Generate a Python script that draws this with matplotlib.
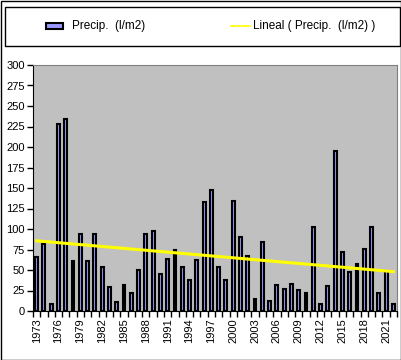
import matplotlib.pyplot as plt
import numpy as np
from matplotlib.patches import Rectangle
from matplotlib.lines import Line2D

plt.rcParams['font.family'] = ['Liberation Sans', 'DejaVu Sans']

years = list(range(1973, 2023))
precip = [66, 82, 9, 228, 234, 61, 94, 61, 94, 54,
          29, 11, 32, 22, 50, 94, 97, 45, 63, 74,
          54, 38, 62, 133, 148, 54, 38, 134, 90, 67,
          15, 84, 12, 32, 27, 33, 26, 22, 102, 9,
          30, 195, 72, 48, 57, 76, 102, 22, 49, 9]
yticks = list(range(0, 301, 25))

W, H = 402, 360
fig = plt.figure(figsize=(W / 100, H / 100), dpi=100)
ax = fig.add_axes([33 / W, 1 - 311 / H, 364 / W, 246 / H])
ax.set_facecolor('#c0c0c0')

x = np.arange(len(years))
ax.bar(x, precip, width=0.4, color='#9999ff', edgecolor='black', linewidth=1.5)

# linear trend (Excel "Lineal")
k, b = np.polyfit(x, precip, 1)
ax.plot([x[0], x[-1]], [k * x[0] + b, k * x[-1] + b], color='#ffff00', linewidth=2.2)

ax.set_xlim(-0.5, len(years) - 0.5)
ax.set_ylim(0, 300)
ax.set_yticks(yticks)
ax.set_yticklabels([str(v) for v in yticks], fontsize=8)
ax.tick_params(axis='y', direction='out', length=4, width=1, pad=2)

# tick marks between categories, labels every 3 years
ax.set_xticks(np.arange(-0.5, len(years), 1))
ax.set_xticklabels([])
ax.tick_params(axis='x', which='major', direction='out', length=4, width=1)
lab_idx = list(range(0, len(years), 3))
ax.set_xticks(lab_idx, minor=True)
ax.set_xticklabels([str(years[i]) for i in lab_idx], minor=True, rotation=90, fontsize=8)
ax.tick_params(axis='x', which='minor', length=0, pad=5)

for s in ['top', 'right']:
    ax.spines[s].set_color('#808080')
for s in ['left', 'bottom']:
    ax.spines[s].set_color('black')

# legend box
fig.add_artist(Rectangle((5 / W, 1 - 46 / H), 395 / W, 39 / H, transform=fig.transFigure,
                         facecolor='white', edgecolor='black', linewidth=1))
fig.add_artist(Rectangle((46 / W, 1 - 29 / H), 17 / W, 6 / H, transform=fig.transFigure,
                         facecolor='#9999ff', edgecolor='black', linewidth=1.5))
fig.text(72 / W, 1 - 26 / H, 'Precip.  (l/m2)', fontsize=8.5, va='center', ha='left')
fig.add_artist(Line2D([231 / W, 250 / W], [1 - 25.5 / H, 1 - 25.5 / H], transform=fig.transFigure,
                      color='#ffff00', linewidth=1.2))
fig.text(253 / W, 1 - 26 / H, 'Lineal ( Precip.  (l/m2) )', fontsize=8.5, va='center', ha='left')

# outer chart border
fig.add_artist(Rectangle((0.5 / W, 0.5 / H), (W - 1.5) / W, (H - 1.5) / H, transform=fig.transFigure,
                         facecolor='none', edgecolor='black', linewidth=1))

fig.savefig('out.png', dpi=100)
